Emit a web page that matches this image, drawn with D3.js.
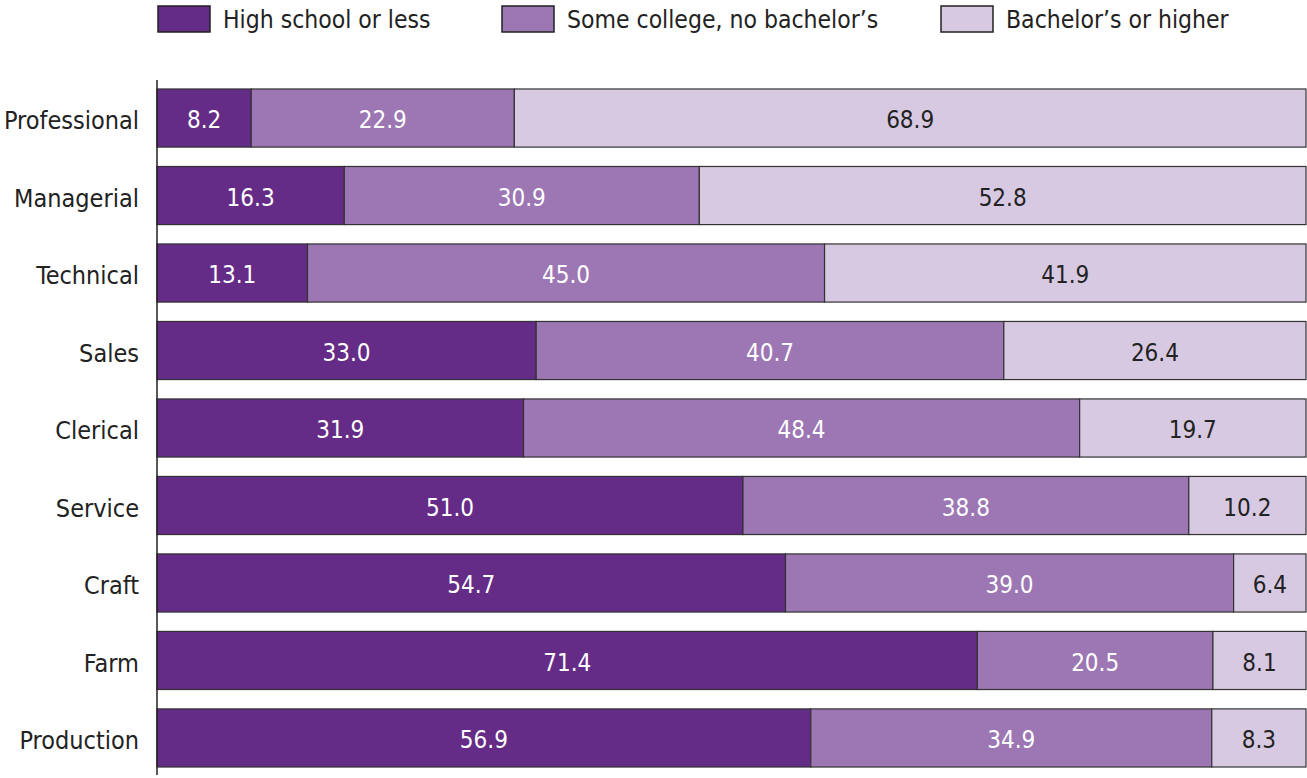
<!DOCTYPE html>
<html><head><meta charset="utf-8">
<script src="https://cdn.jsdelivr.net/npm/d3@7"></script>
<style>body{margin:0;background:#fff}svg{display:block}</style>
</head><body>
<script>
const categories = ["Professional","Managerial","Technical","Sales","Clerical","Service","Craft","Farm","Production"];
const seriesNames = ["High school or less","Some college, no bachelor\u2019s","Bachelor\u2019s or higher"];
const highSchool = [8.2,16.3,13.1,33.0,31.9,51.0,54.7,71.4,56.9];
const someCollege = [22.9,30.9,45.0,40.7,48.4,38.8,39.0,20.5,34.9];
const bachelors = [68.9,52.8,41.9,26.4,19.7,10.2,6.4,8.1,8.3];
const colors = ["#652c87","#9c77b3","#d8c9e2"];
const textColors = ["#ffffff","#ffffff","#222222"];

const W = 1307, H = 778;
const font = "'DejaVu Sans Condensed','DejaVu Sans',sans-serif";
const svg = d3.select("body").append("svg").attr("width", W).attr("height", H);

const rows = categories.map((c,i)=>({cat:c, s0:highSchool[i], s1:someCollege[i], s2:bachelors[i]}));
const stack = d3.stack().keys(["s0","s1","s2"])(rows);

const x = d3.scaleLinear().domain([0,100]).range([157,1306]);
const y = d3.scaleBand().domain(categories).range([79.3,776.7]).paddingInner(0.25).paddingOuter(0.125);

const g = svg.append("g");
stack.forEach((layer,k)=>{
  const gl = g.append("g");
  gl.selectAll("rect").data(layer).join("rect")
    .attr("x", d=>x(d[0]))
    .attr("y", d=>y(d.data.cat))
    .attr("width", d=>Math.min(x(d[1]),x(100))-x(d[0]))
    .attr("height", y.bandwidth())
    .attr("fill", colors[k])
    .attr("stroke", "#333")
    .attr("stroke-width", 1.2);
  gl.selectAll("text").data(layer).join("text")
    .attr("x", d=>(x(d[0])+Math.min(x(d[1]),x(100)))/2)
    .attr("y", d=>y(d.data.cat)+y.bandwidth()/2)
    .attr("dy","0.42em")
    .attr("text-anchor","middle")
    .attr("fill", textColors[k])
    .style("font-family", font).style("font-size","24px")
    .text(d=>(d[1]-d[0]).toFixed(1));
});

// y axis
const yAxis = d3.axisLeft(y).tickSize(0).tickPadding(18);
const ya = svg.append("g").attr("transform","translate(157,0)").call(yAxis);
ya.select(".domain").attr("d","M0,80V775").attr("stroke","#222").attr("stroke-width",1.5);
ya.selectAll("text").attr("dy","0.45em").style("font-family",font).style("font-size","25px").attr("fill","#222");

// legend
const legX = [158, 502, 941];
const leg = svg.append("g");
seriesNames.forEach((n,i)=>{
  leg.append("rect").attr("x",legX[i]).attr("y",6).attr("width",52).attr("height",26)
    .attr("fill",colors[i]).attr("stroke","#222").attr("stroke-width",1.5);
  leg.append("text").attr("x",legX[i]+65).attr("y",19).attr("dy","0.38em")
    .style("font-family",font).style("font-size","24.5px").attr("fill","#222").text(n);
});
</script>
</body></html>
